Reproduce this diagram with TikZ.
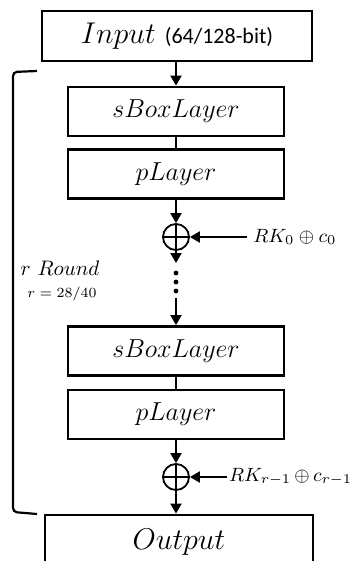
\RequirePackage{fix-cm}
\documentclass[tikz,border=0pt]{standalone}
\usepackage{fontspec}
\newfontfamily\calibri{Carlito}
\usetikzlibrary{arrows.meta}
\tikzset{
    layer/.style={draw, line width=1.4pt, minimum width=108pt, minimum height=24.5pt, inner sep=0pt, font=\fontsize{13}{15}\selectfont},
    io/.style={layer, minimum width=135pt, minimum height=25pt, font=\fontsize{15}{18}\selectfont},
    flow/.style={-{Triangle[width=5.5pt,length=5pt]}, line width=1pt},
    link/.style={line width=1pt},
    xorop/.style={circle, draw, line width=0.9pt, minimum size=13pt, inner sep=0pt,
        path picture={\draw[line width=0.8pt] (path picture bounding box.north) -- (path picture bounding box.south)
            (path picture bounding box.west) -- (path picture bounding box.east);}},
    key/.style={anchor=west, inner sep=0.8pt, font=\fontsize{9.6}{11}\selectfont}
}
\begin{document}
\begin{tikzpicture}[x=0.5pt, y=-0.5pt]
    \useasboundingbox (0,0) rectangle (350,561);
    \clip (0,0) rectangle (350,561);
    % blocks of the round
    \node[io] (input) at (177,36) {$Input$ {\calibri\fontsize{11}{13}\selectfont(64/128-bit)}};
    \node[layer] (sbox1) at (176,111.5) {$sBoxLayer$};
    \node[layer] (play1) at (176,174) {$pLayer$};
    \node[xorop] (xor1) at (176,237) {};
    \node[key, inner sep=3pt] (rk0) at (247,237) {$RK_0 \oplus c_0$};
    \coordinate (gap1) at (176,263);
    \coordinate (gap2) at (176,298);
    \node[layer] (sbox2) at (176,351) {$sBoxLayer$};
    \node[layer] (play2) at (176,414.5) {$pLayer$};
    \node[xorop] (xor2) at (176,477) {};
    \node[key] (rkr) at (227,477) {$RK_{r-1}\,{\oplus}\,c_{r-1}$};
    \node[io, minimum width=134pt, minimum height=27pt] (output) at (179,542) {$Output$};
    % connectors
    \draw[flow] (input.south -| sbox1) -- (sbox1);
    \draw[link] (sbox1) -- (play1);
    \draw[flow] (play1) -- (xor1);
    \draw[flow] (rk0.west) -- (xor1);
    \draw[flow] (xor1) -- (gap1);
    \foreach \y in {273,282,291} \fill (176,\y) circle (1.2pt);
    \draw[flow] (gap2) -- (sbox2);
    \draw[link] (sbox2) -- (play2);
    \draw[flow] (play2) -- (xor2);
    \draw[flow] (rkr.west) -- (xor2);
    \draw[flow] (xor2) -- (xor2 |- output.north);
    % round bracket
    \draw[line width=1.1pt, rounded corners=2pt] (37,71) -- (13,72) -- (13,512) -- (37,514);
    \node (rounds) at (60,268) {\fontsize{10.5}{12}\selectfont$r\ Round$};
    \node (rcount) at (62,294) {\fontsize{7}{8}\selectfont$r = 28/40$};
\end{tikzpicture}
\end{document}
